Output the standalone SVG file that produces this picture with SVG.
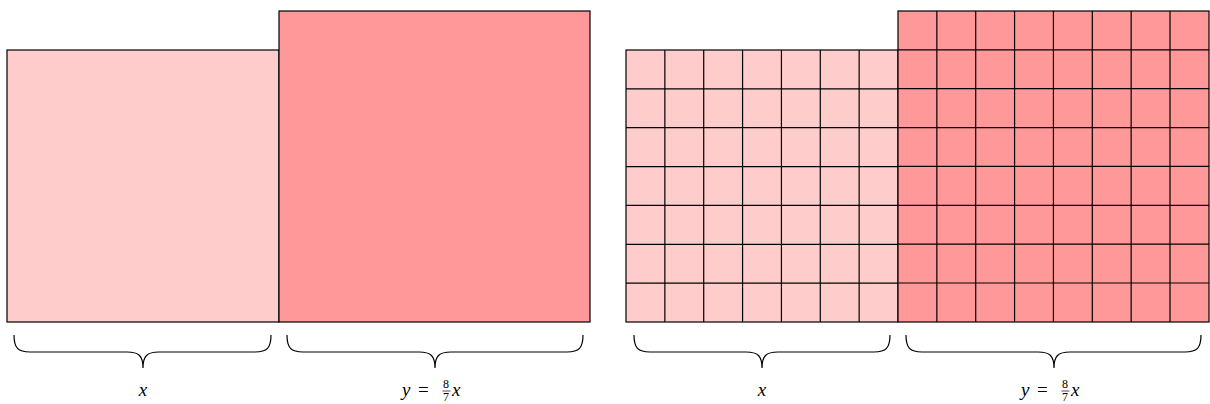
<svg xmlns="http://www.w3.org/2000/svg" width="1210" height="404" viewBox="0 0 1210 404">
<style>
.light{fill:#FFCCCC;stroke:#000;stroke-width:1.2}
.dark{fill:#FF9999;stroke:#000;stroke-width:1.2}
.grid{stroke:#000;stroke-width:1.2;fill:none}
.brace{fill:none;stroke:#000;stroke-width:1.2}
</style>
<g id="left-square"><rect class="light" x="7" y="50" width="272" height="272"/></g>
<g id="left-rect"><rect class="dark" x="279" y="11" width="311" height="311"/></g>
<g id="right-square">
<rect class="light" x="626" y="50" width="272" height="272"/>
<path class="grid" d="M664.86,50V322M703.71,50V322M742.57,50V322M781.43,50V322M820.29,50V322M859.14,50V322M626,88.86H898M626,127.71H898M626,166.57H898M626,205.43H898M626,244.29H898M626,283.14H898"/>
</g>
<g id="right-rect">
<rect class="dark" x="898" y="11" width="311" height="311"/>
<path class="grid" d="M936.86,11V322M975.71,11V322M1014.57,11V322M1053.43,11V322M1092.29,11V322M1131.14,11V322M1170,11V322M898,49.86H1209M898,88.71H1209M898,127.57H1209M898,166.43H1209M898,205.29H1209M898,244.14H1209M898,283H1209"/>
</g>
<g id="connectors">
<path class="brace" d="M14,335 C14,348 18,352 30,352 L127,352 C139,352 143,356 143,368 C143,356 147,352 159,352 L255,352 C267,352 271,348 271,335"/>
<path class="brace" d="M287,335 C287,348 291,352 303,352 L419,352 C431,352 435,356 435,368 C435,356 439,352 451,352 L567,352 C579,352 583,348 583,335"/>
<path class="brace" d="M634,335 C634,348 638,352 650,352 L746,352 C758,352 762,356 762,368 C762,356 766,352 778,352 L874,352 C886,352 890,348 890,335"/>
<path class="brace" d="M906,335 C906,348 910,352 922,352 L1038,352 C1050,352 1054,356 1054,368 C1054,356 1058,352 1070,352 L1185,352 C1197,352 1201,348 1201,335"/>
</g>
<g id="labels" font-family="'Liberation Serif', 'DejaVu Serif', serif" font-size="19">
<text font-style="italic" x="143" y="396" text-anchor="middle">x</text>
<text font-style="italic" x="402" y="396">y</text><text x="418" y="396">=</text>
<text font-size="12" x="443" y="388">8</text><line x1="442.5" y1="391" x2="450.5" y2="391" stroke="#000" stroke-width="0.7"/><text font-size="12" x="443" y="401">7</text>
<text font-style="italic" x="452" y="396">x</text>
<text font-style="italic" x="762" y="396" text-anchor="middle">x</text>
<text font-style="italic" x="1021" y="396">y</text><text x="1037" y="396">=</text>
<text font-size="12" x="1062" y="388">8</text><line x1="1061.5" y1="391" x2="1069.5" y2="391" stroke="#000" stroke-width="0.7"/><text font-size="12" x="1062" y="401">7</text>
<text font-style="italic" x="1071" y="396">x</text>
</g>
</svg>
